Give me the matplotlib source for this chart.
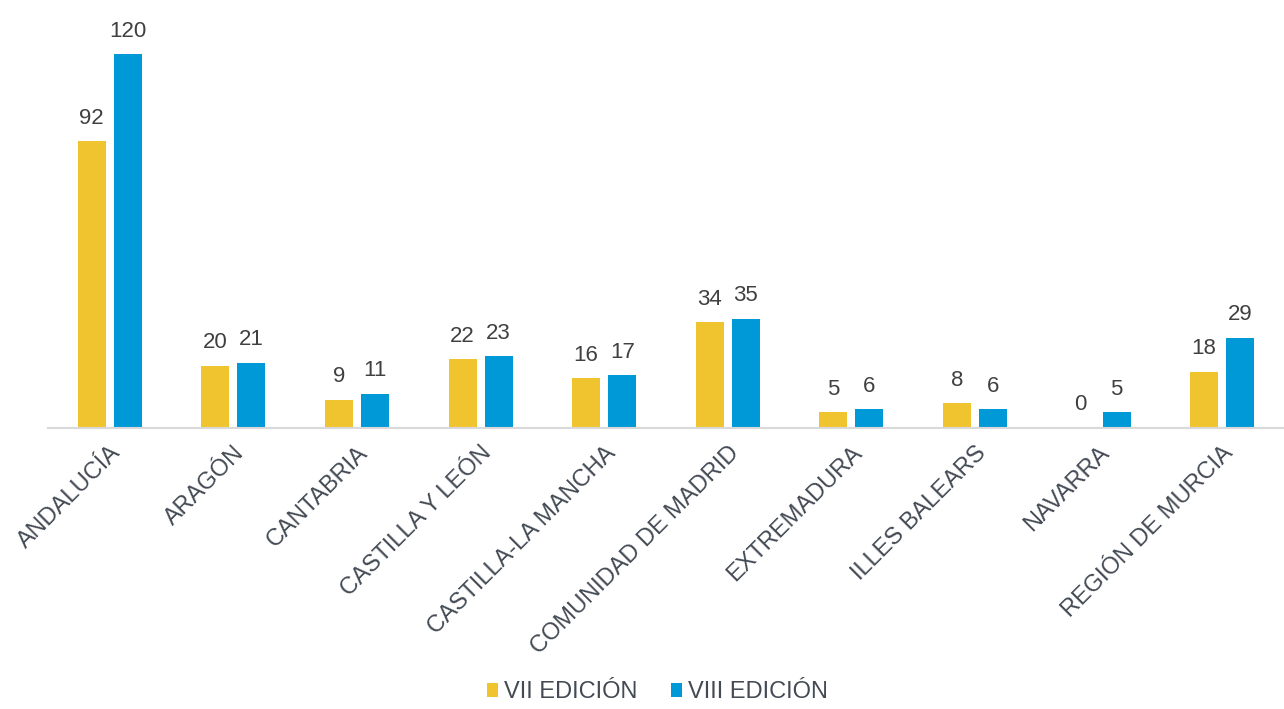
import matplotlib
matplotlib.use("Agg")
import matplotlib.pyplot as plt
import numpy as np

regiones = ["ANDALUCÍA", "ARAGÓN", "CANTABRIA", "CASTILLA Y LEÓN", "CASTILLA-LA MANCHA",
            "COMUNIDAD DE MADRID", "EXTREMADURA", "ILLES BALEARS", "NAVARRA", "REGIÓN DE MURCIA"]
vii_edicion = [92, 20, 9, 22, 16, 34, 5, 8, 0, 18]
viii_edicion = [120, 21, 11, 23, 17, 35, 6, 6, 5, 29]

plt.rcParams['font.family'] = ['Liberation Sans', 'DejaVu Sans']

fig = plt.figure(figsize=(12.84, 7.09), dpi=100)
ax = fig.add_axes([48 / 1284, 281 / 709, 1236 / 1284, 405 / 709])

x = np.arange(len(regiones))
w = 0.227
off = 0.146
bars1 = ax.bar(x - off, vii_edicion, w, color="#F0C42E", label="VII EDICIÓN")
bars2 = ax.bar(x + off, viii_edicion, w, color="#0099D8", label="VIII EDICIÓN")

# etiquetas de valor
for bars in (bars1, bars2):
    for b in bars:
        ax.annotate(str(int(b.get_height())), (b.get_x() + b.get_width() / 2, b.get_height()),
                    xytext=(0, 9), textcoords="offset points", ha="center", va="bottom",
                    fontsize=16, color="#404040")

ax.set_xlim(-0.5, len(regiones) - 0.5)
ax.set_ylim(0, 130)
ax.set_yticks([])
for s in ["top", "right", "left"]:
    ax.spines[s].set_visible(False)
ax.spines["bottom"].set_color("#d9d9d9")
ax.spines["bottom"].set_linewidth(1.5)
ax.tick_params(axis="x", length=0, pad=10)
ax.set_xticks(x)
ax.set_xticklabels(regiones, rotation=45, ha="right", rotation_mode="anchor",
                   fontsize=17, color="#434a54")

fig.legend(loc="lower center", bbox_to_anchor=(0.512, -0.022), ncol=2, frameon=False,
           fontsize=17, handlelength=0.5, handleheight=0.5, handletextpad=0.25,
           columnspacing=1.4, labelcolor="#434a54")

fig.savefig("out.png", dpi=100)
